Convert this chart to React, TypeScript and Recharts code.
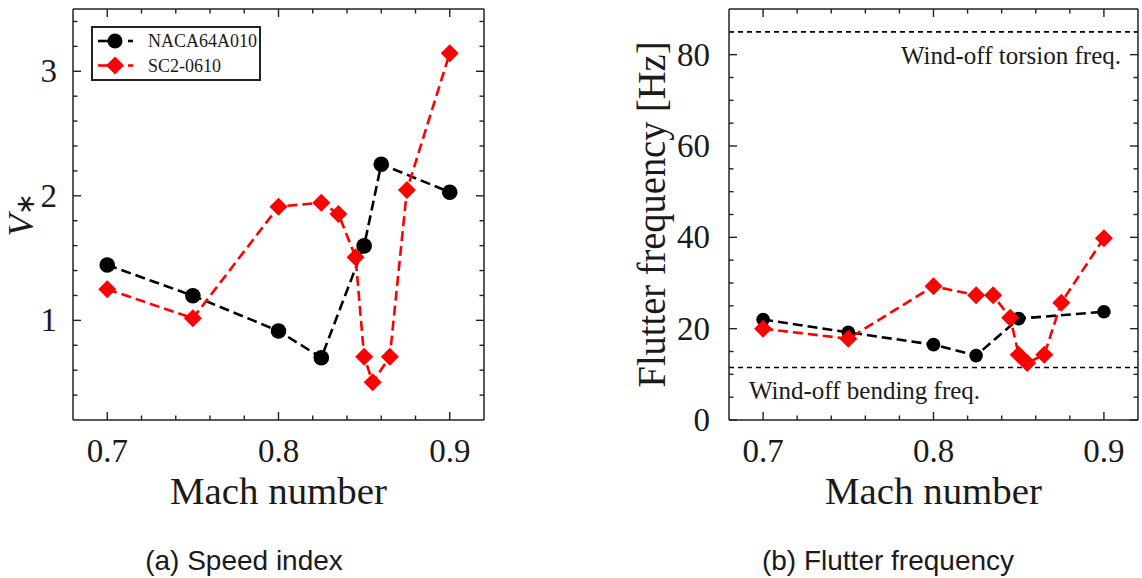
import React from 'react';
import { LineChart, Line, XAxis, YAxis, ReferenceLine, Legend, Label } from 'recharts';

const SERIF = '"Liberation Serif", "Times New Roman", serif';
const SANS = '"Liberation Sans", Arial, sans-serif';
const INK = '#1a1a1a';
const RED = '#ff0000';

// (a) speed index
const machNaca = [0.7, 0.75, 0.8, 0.825, 0.85, 0.86, 0.9];
const speedNaca = [1.445, 1.198, 0.915, 0.7, 1.598, 2.254, 2.029];
const machSc2 = [0.7, 0.75, 0.8, 0.825, 0.835, 0.845, 0.85, 0.855, 0.865, 0.875, 0.9];
const speedSc2 = [1.25, 1.017, 1.913, 1.945, 1.855, 1.507, 0.708, 0.503, 0.708, 2.047, 3.145];

// (b) flutter frequency [Hz]
const machNacaFreq = [0.7, 0.75, 0.8, 0.825, 0.85, 0.9];
const freqNaca = [22.0, 19.2, 16.5, 14.1, 22.2, 23.7];
const freqSc2 = [20.0, 17.8, 29.3, 27.3, 27.3, 22.4, 14.3, 12.5, 14.3, 25.7, 39.8];
const torsionFreq = 85;
const bendingFreq = 11.5;

// ticks
const xTicks = [0.7, 0.72, 0.74, 0.76, 0.78, 0.8, 0.82, 0.84, 0.86, 0.88, 0.9];
const xMajor = [0.7, 0.8, 0.9];
const speedTicks = [0.4, 0.6, 0.8, 1, 1.2, 1.4, 1.6, 1.8, 2, 2.2, 2.4, 2.6, 2.8, 3, 3.2, 3.4];
const speedMajor = [1, 2, 3];
const freqTicks = [0, 5, 10, 15, 20, 25, 30, 35, 40, 45, 50, 55, 60, 65, 70, 75, 80, 85];
const freqMajor = [0, 20, 40, 60, 80];

const toPoints = (xs: number[], ys: number[]) => xs.map((m, i) => ({ m, v: ys[i] }));

const frame = { stroke: '#222', strokeWidth: 1.5 };
const fmtMach = (v: number) => v.toFixed(1);
const isIn = (list: number[], v: number) => list.some((m) => Math.abs(m - v) < 1e-9);

type Side = 'bottom' | 'top' | 'left' | 'right';

// ticks point inwards, like the original plotting program
const axisTick = (side: Side, majors: number[], fmt?: (v: number) => string, gap = 16) => (props: any) => {
  const { x, y, payload, index } = props;
  const v = payload.value;
  const major = isIn(majors, v);
  const len = major ? 8 : 4.5;
  let x2 = x;
  let y2 = y;
  if (side === 'bottom') y2 = y - len;
  if (side === 'top') y2 = y + len;
  if (side === 'left') x2 = x + len;
  if (side === 'right') x2 = x - len;
  return (
    <g key={`${side}-${index}`}>
      <line x1={x} y1={y} x2={x2} y2={y2} stroke="#222" strokeWidth={1.4} />
      {fmt && major && side === 'bottom' && (
        <text x={x} y={y + 42} textAnchor="middle" fontFamily={SERIF} fontSize={33} fill={INK}>
          {fmt(v)}
        </text>
      )}
      {fmt && major && side === 'left' && (
        <text x={x - gap} y={y + 11} textAnchor="end" fontFamily={SERIF} fontSize={33} fill={INK}>
          {fmt(v)}
        </text>
      )}
    </g>
  );
};

const circleDot = (r: number) => (p: any) => (
  <circle key={`c-${p.index}`} cx={p.cx} cy={p.cy} r={r} fill="#000" />
);
const diamondPath = (cx: number, cy: number, h: number) =>
  `M${cx},${cy - h}L${cx + h},${cy}L${cx},${cy + h}L${cx - h},${cy}Z`;
const diamondDot = (h: number) => (p: any) => (
  <path key={`d-${p.index}`} d={diamondPath(p.cx, p.cy, h)} fill={RED} />
);

const bottomTitles = (captionShift: number, caption: string) => (p: any) => {
  const { x, y, width } = p.viewBox;
  const cx = x + width / 2;
  return (
    <g>
      <text x={cx} y={y + 84} textAnchor="middle" fontFamily={SERIF} fontSize={38} textLength={217}
        lengthAdjust="spacingAndGlyphs" fill={INK}>
        Mach number
      </text>
      <text x={cx + captionShift} y={y + 150} textAnchor="middle" fontFamily={SANS} fontSize={28} fill={INK}>
        {caption}
      </text>
    </g>
  );
};

const vStarLabel = (p: any) => {
  const { x, y, height } = p.viewBox;
  const cy = y + height / 2;
  return (
    <text transform={`translate(${x + 20},${cy}) rotate(-90)`} textAnchor="middle" fontFamily={SERIF} fontSize={36} fill={INK}>
      <tspan fontStyle="italic">V</tspan>
      <tspan fontSize={26} dy={1}>∗</tspan>
    </text>
  );
};

const freqAxisLabel = (p: any) => {
  const { x, y, height } = p.viewBox;
  const cy = y + height / 2;
  return (
    <text transform={`translate(${x + 76},${cy}) rotate(-90)`} textAnchor="middle" fontFamily={SERIF} fontSize={39}
      textLength={346} lengthAdjust="spacingAndGlyphs" fill={INK}>
      Flutter frequency [Hz]
    </text>
  );
};

const markerOf: Record<string, 'circle' | 'diamond'> = { NACA64A010: 'circle', 'SC2-0610': 'diamond' };

const LegendBox = ({ payload }: any) => (
  <div style={{ border: '2px solid #222', background: '#fff', width: 166, height: 51 }}>
    <svg width={166} height={51} style={{ display: 'block' }}>
      {(payload || []).map((e: any, i: number) => {
        const cy = 13 + i * 24.5;
        return (
          <g key={e.value}>
            <line x1={5} y1={cy} x2={22} y2={cy} stroke={e.color} strokeWidth={2.6} />
            <line x1={35} y1={cy} x2={40} y2={cy} stroke={e.color} strokeWidth={2.6} />
            {markerOf[e.value] === 'circle' ? (
              <circle cx={22} cy={cy} r={7.5} fill={e.color} />
            ) : (
              <path d={diamondPath(22, cy, 9)} fill={e.color} />
            )}
            <text x={55} y={cy + 6} fontFamily={SERIF} fontSize={18} fill={INK}>
              {e.value}
            </text>
          </g>
        );
      })}
    </svg>
  </div>
);

const SpeedChart = () => (
  <LineChart width={500} height={578} margin={{ top: 8, right: 15, bottom: 98, left: 13 }}>
    <XAxis xAxisId="b" dataKey="m" type="number" domain={[0.68, 0.92]} allowDataOverflow ticks={xTicks} interval={0}
      height={60} tickSize={0} tickMargin={0} tickLine={false} axisLine={frame} tick={axisTick('bottom', xMajor, fmtMach)}>
      <Label content={bottomTitles(-34.5, '(a) Speed index')} />
    </XAxis>
    <XAxis xAxisId="t" orientation="top" dataKey="m" type="number" domain={[0.68, 0.92]} allowDataOverflow ticks={xTicks}
      interval={0} height={1} tickSize={0} tickMargin={0} tickLine={false} axisLine={frame} tick={axisTick('top', xMajor)} />
    <YAxis yAxisId="l" type="number" domain={[0.2, 3.5]} allowDataOverflow ticks={speedTicks} interval={0} width={60}
      tickSize={0} tickMargin={0} tickLine={false} axisLine={frame} tick={axisTick('left', speedMajor, (v) => String(v), 16)}>
      <Label content={vStarLabel} />
    </YAxis>
    <YAxis yAxisId="r" orientation="right" type="number" domain={[0.2, 3.5]} allowDataOverflow ticks={speedTicks}
      interval={0} width={1} tickSize={0} tickMargin={0} tickLine={false} axisLine={frame} tick={axisTick('right', speedMajor)} />
    <Legend layout="horizontal" align="center" verticalAlign="middle" content={<LegendBox />}
      wrapperStyle={{ left: 91, top: 26, width: 170, height: 55 }} />
    <Line xAxisId="b" yAxisId="l" data={toPoints(machNaca, speedNaca)} dataKey="v" name="NACA64A010" stroke="#000"
      strokeWidth={2.6} strokeDasharray="10 5" dot={circleDot(7.8)} activeDot={false} isAnimationActive={false} />
    <Line xAxisId="b" yAxisId="l" data={toPoints(machSc2, speedSc2)} dataKey="v" name="SC2-0610" stroke={RED}
      strokeWidth={2.6} strokeDasharray="10 5" dot={diamondDot(9)} activeDot={false} isAnimationActive={false} />
  </LineChart>
);

const refText = (anchor: 'start' | 'end', dx: number, text: string) => (p: any) => {
  const { x, y, width } = p.viewBox;
  const tx = anchor === 'end' ? x + width - dx : x + dx;
  return (
    <text x={tx} y={y + 32} textAnchor={anchor} fontFamily={SERIF} fontSize={25} fill={INK}>
      {text}
    </text>
  );
};

const FreqChart = () => (
  <LineChart width={562} height={578} margin={{ top: 8, right: 3, bottom: 98, left: 9 }}>
    <XAxis xAxisId="b" dataKey="m" type="number" domain={[0.68, 0.92]} allowDataOverflow ticks={xTicks} interval={0}
      height={60} tickSize={0} tickMargin={0} tickLine={false} axisLine={frame} tick={axisTick('bottom', xMajor, fmtMach)}>
      <Label content={bottomTitles(-45.5, '(b) Flutter frequency')} />
    </XAxis>
    <XAxis xAxisId="t" orientation="top" dataKey="m" type="number" domain={[0.68, 0.92]} allowDataOverflow ticks={xTicks}
      interval={0} height={1} tickSize={0} tickMargin={0} tickLine={false} axisLine={frame} tick={axisTick('top', xMajor)} />
    <YAxis yAxisId="l" type="number" domain={[0, 90]} allowDataOverflow ticks={freqTicks} interval={0} width={140}
      tickSize={0} tickMargin={0} tickLine={false} axisLine={frame} tick={axisTick('left', freqMajor, (v) => String(v), 19)}>
      <Label content={freqAxisLabel} />
    </YAxis>
    <YAxis yAxisId="r" orientation="right" type="number" domain={[0, 90]} allowDataOverflow ticks={freqTicks}
      interval={0} width={1} tickSize={0} tickMargin={0} tickLine={false} axisLine={frame} tick={axisTick('right', freqMajor)} />
    <ReferenceLine xAxisId="b" yAxisId="l" y={torsionFreq} stroke="#000" strokeWidth={1.7} strokeDasharray="5 4">
      <Label content={refText('end', 17, 'Wind-off torsion freq.')} />
    </ReferenceLine>
    <ReferenceLine xAxisId="b" yAxisId="l" y={bendingFreq} stroke="#000" strokeWidth={1.7} strokeDasharray="5 4">
      <Label content={refText('start', 20, 'Wind-off bending freq.')} />
    </ReferenceLine>
    <Line xAxisId="b" yAxisId="l" data={toPoints(machNacaFreq, freqNaca)} dataKey="v" name="NACA64A010" stroke="#000"
      strokeWidth={2.6} strokeDasharray="10 5" dot={circleDot(6.8)} activeDot={false} isAnimationActive={false} />
    <Line xAxisId="b" yAxisId="l" data={toPoints(machSc2, freqSc2)} dataKey="v" name="SC2-0610" stroke={RED}
      strokeWidth={2.6} strokeDasharray="10 5" dot={diamondDot(9)} activeDot={false} isAnimationActive={false} />
  </LineChart>
);

export default function App() {
  return (
    <div style={{ position: 'absolute', left: 0, top: 0, width: 1142, height: 578, background: '#fff' }}>
      <div style={{ position: 'absolute', left: 0, top: 0 }}>
        <SpeedChart />
      </div>
      <div style={{ position: 'absolute', left: 580, top: 0 }}>
        <FreqChart />
      </div>
    </div>
  );
}
